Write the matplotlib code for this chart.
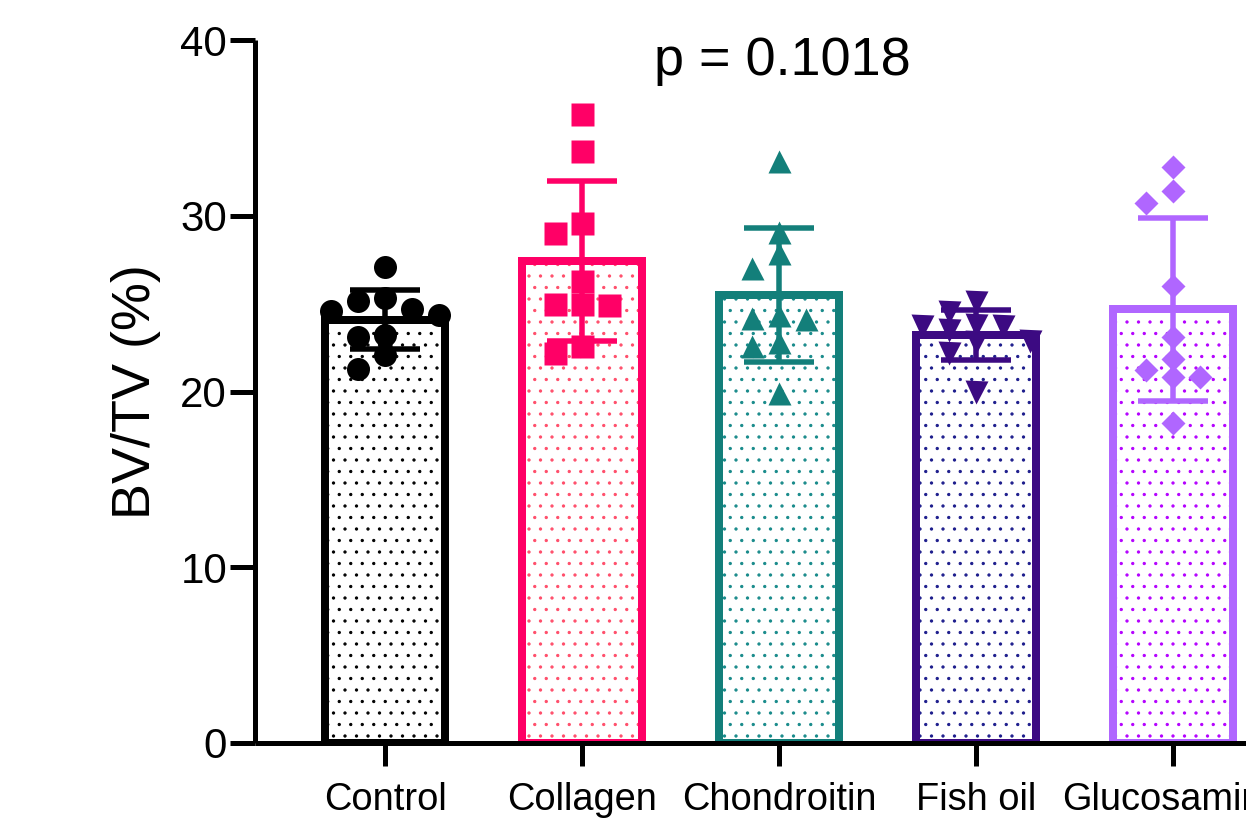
import numpy as np
import matplotlib
matplotlib.use('Agg')
import matplotlib.pyplot as plt

DPI = 69
W, H = 1246, 823


def pt(v):
    # pixels -> points at this dpi
    return v * 72.0 / DPI


plt.rcParams['font.family'] = ['Liberation Sans', 'DejaVu Sans']
plt.rcParams['hatch.linewidth'] = 1.0

groups = ['Control', 'Collagen', 'Chondroitin\nsulfate', 'Fish oil', 'Glucosamine']
control = [27.1, 25.3, 25.15, 24.7, 24.6, 24.35, 23.2, 23.1, 22.1, 21.3]
collagen = [35.8, 33.7, 29.6, 29.0, 26.3, 25.0, 25.0, 24.9, 22.6, 22.2]
chondroitin = [33.1, 29.1, 27.9, 27.0, 24.35, 24.2, 24.1, 22.8, 22.6, 19.9]
fish_oil = [25.1, 24.5, 23.8, 23.7, 23.7, 23.5, 22.9, 22.8, 22.2, 20.0]
glucosamine = [32.8, 31.4, 30.7, 26.0, 23.1, 21.85, 21.2, 20.8, 20.8, 18.2]
series = [control, collagen, chondroitin, fish_oil, glucosamine]
p_text = 'p = 0.1018'

edge_colors = ['#000000', '#ff0066', '#137f7a', '#3c0a82', '#b066ff']
dot_colors = ['#000000', '#ff4d6a', '#178a8a', '#1c1c8c', '#b400ff']
markers = ['o', 's', '^', 'v', 'D']
msizes = [pt(23), pt(23), pt(23), pt(23), pt(16.5)]

fig = plt.figure(figsize=(W / DPI, H / DPI), dpi=DPI)
unit = 197.0  # px per category
xl = (-(385 - 255) / unit, 4.6)
axw = (xl[1] - xl[0]) * unit
ax = fig.add_axes([255 / W, (H - 743) / H, axw / W, (743 - 40) / H])
ax.set_xlim(*xl)
ax.set_ylim(0, 40)

x = np.arange(len(groups))
means = [np.mean(s) for s in series]
sds = [np.std(s, ddof=1) for s in series]

# dotted fill, then the thick outline
ax.bar(x, means, width=0.61, facecolor='white', edgecolor=dot_colors,
       linewidth=0, hatch='.', zorder=1)
ax.bar(x, means, width=0.61, fill=False, edgecolor=edge_colors,
       linewidth=pt(8), zorder=2)

for i in range(len(groups)):
    ax.errorbar(x[i], means[i], yerr=sds[i], fmt='none', ecolor=edge_colors[i],
                elinewidth=pt(5.5), capsize=pt(35), capthick=pt(5.5), zorder=3)


def swarm(vals, xc, d):
    # simple beeswarm in pixel space, highest values placed first
    vals = np.asarray(vals)
    ypx = ax.transData.transform(np.column_stack([np.full(len(vals), xc), vals]))[:, 1]
    step = 1.17 * d
    placed = []
    offs = np.zeros(len(vals))
    for i in np.argsort(-vals, kind='stable'):
        for k in [0, -1, 1, -2, 2, -3, 3, -4, 4]:
            ox = k * step
            if all(np.hypot(ox - px, ypx[i] - py) >= 0.75 * d for px, py in placed):
                break
        placed.append((ox, ypx[i]))
        offs[i] = ox
    return xc + offs / unit


for i, s in enumerate(series):
    xs = swarm(s, x[i], 23.0)
    ax.plot(xs, s, ls='none', marker=markers[i], ms=msizes[i], color=edge_colors[i],
            mec='none', zorder=4, clip_on=False)

for side in ['top', 'right']:
    ax.spines[side].set_visible(False)
for side in ['left', 'bottom']:
    ax.spines[side].set_linewidth(pt(5))
    ax.spines[side].set_capstyle('butt')

ax.set_yticks([0, 10, 20, 30, 40])
ax.set_xticks(x)
ax.set_xticklabels(groups, fontsize=pt(38), va='top', linespacing=1.25)
ax.tick_params(axis='y', length=pt(25), width=pt(5), pad=pt(3), labelsize=pt(42))
ax.tick_params(axis='x', length=pt(23), width=pt(5), pad=pt(16))

ax.set_ylabel('BV/TV (%)', fontsize=pt(54))
ax.yaxis.set_label_coords((161 - 255) / axw, 0.5)

fig.text(782 / W, 1 - 75 / H, p_text, ha='center', va='baseline', fontsize=pt(54))

fig.savefig('out.png', dpi=DPI)
